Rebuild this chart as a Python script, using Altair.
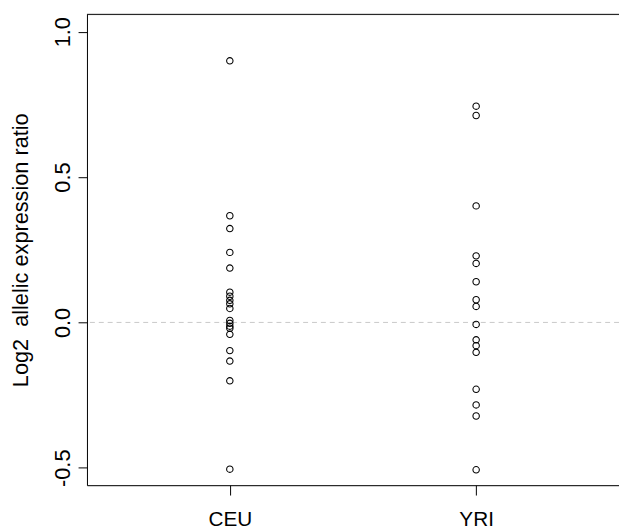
import altair as alt
import pandas as pd

groups = ["CEU", "YRI"]
ceu_values = [0.900, 0.367, 0.323, 0.241, 0.187, 0.104, 0.090, 0.076, 0.064, 0.048,
              0.007, -0.003, -0.013, -0.020, -0.041, -0.097, -0.133, -0.201, -0.505]
yri_values = [0.744, 0.712, 0.401, 0.229, 0.203, 0.140, 0.078, 0.055, -0.007,
              -0.060, -0.080, -0.103, -0.230, -0.284, -0.322, -0.507]
y_ticks = [-0.5, 0.0, 0.5, 1.0]
y_title = "Log2\u00a0 allelic expression ratio"

df = pd.DataFrame({
    "group": ["CEU"] * len(ceu_values) + ["YRI"] * len(yri_values),
    "value": ceu_values + yri_values,
})

W, H = 539, 477
FONT = "Liberation Sans"

x_enc = alt.X(
    "group:N", sort=groups,
    scale=alt.Scale(type="point", padding=0.58),
    axis=alt.Axis(title=None, labelAngle=0, labelFontSize=21, labelFont=FONT,
                  labelColor="black", tickColor="black", domainColor="black",
                  tickSize=10, labelPadding=14, labelBaseline="top",
                  domainWidth=1, tickWidth=1, grid=False),
)
y_enc = alt.Y(
    "value:Q",
    scale=alt.Scale(domain=[-0.56, 1.06], nice=False, zero=False),
    axis=alt.Axis(values=y_ticks, title=y_title, titleFontSize=22, titleFont=FONT,
                  titleFontWeight="normal", titleColor="black", titleAngle=270,
                  titleX=-60, titleY=H / 2, titleAlign="center", titleBaseline="alphabetic",
                  labelExpr="replace(format(datum.value, '.1f'), '\u2212', '-')",
                  labelAngle=270, labelAlign="center", labelBaseline="alphabetic",
                  labelFontSize=22, labelFont=FONT, labelColor="black",
                  tickColor="black", domainColor="black", tickSize=9, labelPadding=9,
                  domainWidth=1, tickWidth=1, grid=False),
)

zero_line = alt.Chart(pd.DataFrame({"z": [0.0]})).mark_rule(
    color="#c8c8c8", strokeDash=[5, 4], strokeWidth=1
).encode(y=alt.Y("z:Q"))

points = alt.Chart(df).mark_point(
    shape="circle", filled=False, color="black", size=42, strokeWidth=1.1, opacity=1
).encode(x=x_enc, y=y_enc)

top_border = alt.Chart(pd.DataFrame({"a": [0]})).mark_rule(
    color="black", strokeWidth=1
).encode(x=alt.value(0), x2=alt.value(W), y=alt.value(0))

chart = alt.layer(zero_line, points, top_border).properties(
    width=W, height=H,
    autosize=alt.AutoSizeParams(type="none"),
    padding={"left": 80, "top": 3, "right": 0, "bottom": 44},
).configure_view(stroke=None).configure(background="white")

chart.save("out.html", embed_options={"renderer": "svg", "actions": False})
